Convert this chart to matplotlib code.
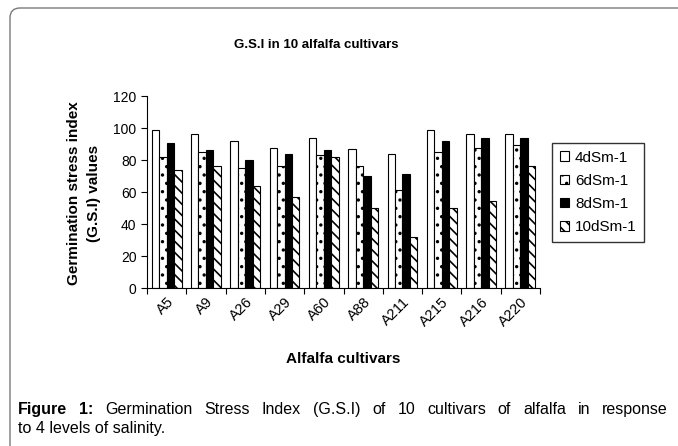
import numpy as np
import matplotlib
matplotlib.use("Agg")
import matplotlib.pyplot as plt
from matplotlib.patches import FancyBboxPatch
from matplotlib.transforms import IdentityTransform

plt.rcParams['font.family'] = ['Liberation Sans', 'DejaVu Sans']
plt.rcParams['hatch.linewidth'] = 1.2

# data
cultivars = ["A5", "A9", "A26", "A29", "A60", "A88", "A211", "A215", "A216", "A220"]
levels = ["4dSm-1", "6dSm-1", "8dSm-1", "10dSm-1"]
gsi_4 = [99, 96, 92, 87.5, 94, 87, 84, 99, 96, 96]
gsi_6 = [82, 85, 75, 76, 83, 76, 61, 85, 87.5, 89.5]
gsi_8 = [90.5, 86, 80, 84, 86, 70, 71, 92, 94, 94]
gsi_10 = [74, 76, 64, 57, 82, 50, 32, 50, 54.5, 76]

W, H = 678, 446
fig = plt.figure(figsize=(W / 100, H / 100), dpi=100)

# outer frame of the figure panel
frame = FancyBboxPatch((10, -30), 720, 468, boxstyle="round,pad=0,rounding_size=10",
                       transform=IdentityTransform(), fill=False, edgecolor="#7a7a7a", linewidth=1.0)
fig.patches.append(frame)

ax = fig.add_axes([147 / W, 1 - 288 / H, (540 - 147) / W, (288 - 96) / H])

x = np.arange(len(cultivars))
w = 0.19
series = [gsi_4, gsi_6, gsi_8, gsi_10]
faces = ["white", "white", "black", "white"]
hatches = ["", "..", "", "\\\\\\"]
bars = []
for i, vals in enumerate(series):
    b = ax.bar(x + (i - 1.5) * w, vals, w, color=faces[i], edgecolor="black",
               hatch=hatches[i], linewidth=0.8, label=levels[i])
    bars.append(b)

ax.set_xlim(-0.5, len(cultivars) - 0.5)
ax.set_ylim(0, 120)
ax.set_yticks(np.arange(0, 121, 20))
ax.set_xticks(np.arange(-0.5, len(cultivars), 1.0))
ax.set_xticklabels([])
ax.set_xticks(x, minor=True)
ax.set_xticklabels(cultivars, minor=True, rotation=45, ha="right", rotation_mode="anchor", fontsize=10.5)
ax.tick_params(axis="x", which="minor", length=0, pad=5)
ax.tick_params(axis="x", which="major", length=4, direction="out")
ax.tick_params(axis="y", length=4, direction="out", labelsize=10)
ax.spines["top"].set_visible(False)
ax.spines["right"].set_visible(False)

fig.text(343 / W, 1 - 359 / H, "Alfalfa cultivars", ha="center", va="center",
         fontsize=11, fontweight="bold")
fig.text(84 / W, 1 - 193 / H, "Germination stress index\n(G.S.I) values", ha="center", va="center",
         rotation=90, fontsize=11, fontweight="bold", linespacing=1.5)

fig.text(316 / W, 1 - 45 / H, "G.S.I in 10 alfalfa cultivars", ha="center", va="center",
         fontsize=9.5, fontweight="bold")

fig.legend(handles=bars, labels=levels, loc="upper left", bbox_to_anchor=(552 / W, 1 - 143 / H),
           frameon=True, fancybox=False, edgecolor="black", fontsize=11,
           handlelength=0.6, handleheight=0.6, handletextpad=0.4, labelspacing=0.6,
           borderpad=0.5, borderaxespad=0)

# caption, first line justified between the frame margins
cap_size = 11.5
renderer = fig.canvas.get_renderer()
cap_words = [("Figure", "bold"), ("1:", "bold"), ("Germination", "normal"), ("Stress", "normal"),
             ("Index", "normal"), ("(G.S.I)", "normal"), ("of", "normal"), ("10", "normal"),
             ("cultivars", "normal"), ("of", "normal"), ("alfalfa", "normal"), ("in", "normal"),
             ("response", "normal")]
x0, x1 = 18, 668
y1 = 1 - 414 / H
texts = []
total = 0
for word, weight in cap_words:
    t = fig.text(0, y1, word, ha="left", va="baseline", fontsize=cap_size, fontweight=weight)
    total += t.get_window_extent(renderer).width
    texts.append(t)
gap = (x1 - x0 - total) / (len(texts) - 1)
pos = x0
for t in texts:
    t.set_x(pos / W)
    pos += t.get_window_extent(renderer).width + gap
fig.text(x0 / W, 1 - 433 / H, "to 4 levels of salinity.", ha="left", va="baseline", fontsize=cap_size)

fig.savefig("out.png", dpi=100)
